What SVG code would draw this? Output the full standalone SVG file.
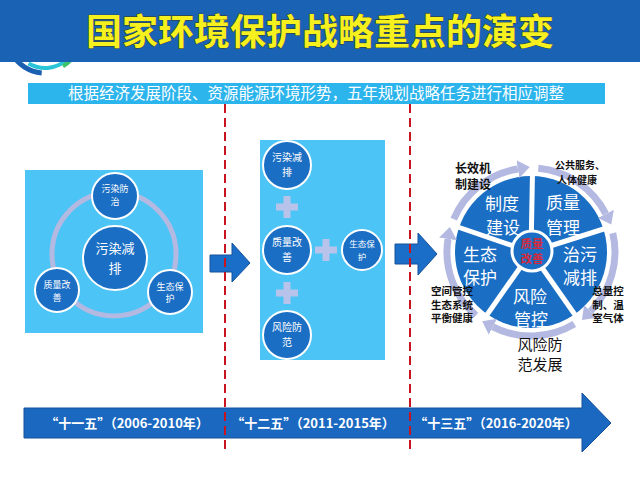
<svg xmlns="http://www.w3.org/2000/svg" width="640" height="480" viewBox="0 0 640 480">
<defs>
<style>
text{font-family:"Noto Sans CJK SC","Noto Sans",sans-serif;text-anchor:middle}
.node{fill:#1a6ec4;stroke:#ffffff;stroke-width:2}
.wt{fill:#ffffff}
.panel{fill:#4cc4f6}
.plus{fill:#b7c3ea}
.ring{fill:none;stroke:#b4b9e2}
.dash{stroke:#c8141e;stroke-width:2;stroke-dasharray:9 5}
.blk{fill:#111111;font-weight:bold}
.garr{fill:#1a6ec8;stroke:#16509a;stroke-width:1}
</style>
<marker id="ah" markerUnits="userSpaceOnUse" markerWidth="14" markerHeight="18" refX="0" refY="9" orient="auto">
<path d="M0,0 L12,9 L0,18 z" fill="#b4b9e2"/>
</marker>
</defs>
<rect width="640" height="480" fill="#ffffff"/>

<!-- logo arcs -->
<g id="logo" fill="none">
<path d="M12.1 54 A38 38 0 0 0 41.7 72.9" stroke="#1a5fb0" stroke-width="5"/>
<path d="M28.5 63.6 A33 33 0 0 0 66.2 60.3" stroke="#2ac4d8" stroke-width="4"/>
<path d="M63 66.2 A36 36 0 0 0 77.6 50.2" stroke="#3cc46a" stroke-width="4"/>
</g>

<!-- header -->
<g id="header">
<rect x="0" y="0" width="640" height="62" fill="#1a62b4"/>
<text x="320" y="45" font-size="36" font-weight="bold" fill="#f5f01e" stroke="#3a3a10" stroke-width="0.8" paint-order="stroke">国家环境保护战略重点的演变</text>
</g>

<g id="subtitle">
<rect x="28" y="83" width="577" height="21" fill="#2cb4ec"/>
<text x="316" y="99" font-size="15.5" class="wt">根据经济发展阶段、资源能源环境形势，五年规划战略任务进行相应调整</text>
</g>

<!-- panel 1 -->
<g id="panel1">
<rect x="25" y="170" width="178" height="163" class="panel"/>
<circle cx="114" cy="254" r="62" class="ring" stroke-width="5"/>
</g>
<g id="p1-top"><circle cx="115" cy="196" r="23" class="node"/><text x="115" y="192" font-size="9" class="wt">污染防</text><text x="115" y="205" font-size="9" class="wt">治</text></g>
<g id="p1-center"><circle cx="115" cy="258" r="32" class="node"/><text x="115" y="253" font-size="13" class="wt">污染减</text><text x="115" y="273" font-size="13" class="wt">排</text></g>
<g id="p1-left"><circle cx="57" cy="290" r="22" class="node"/><text x="57" y="288" font-size="9" class="wt">质量改</text><text x="57" y="301" font-size="9" class="wt">善</text></g>
<g id="p1-right"><circle cx="170" cy="292" r="22" class="node"/><text x="170" y="290" font-size="9" class="wt">生态保</text><text x="170" y="302" font-size="9" class="wt">护</text></g>

<!-- panel 2 -->
<g id="panel2">
<rect x="260" y="140" width="125" height="220" class="panel"/>
<path class="plus" d="M283.5 196 h7 v7.5 h7.5 v7 h-7.5 v7.5 h-7 v-7.5 h-7.5 v-7 h7.5 z"/>
<path class="plus" d="M283.5 282 h7 v7.5 h7.5 v7 h-7.5 v7.5 h-7 v-7.5 h-7.5 v-7 h7.5 z"/>
<path class="plus" d="M322.5 239 h7 v7.5 h7.5 v7 h-7.5 v7.5 h-7 v-7.5 h-7.5 v-7 h7.5 z"/>
</g>
<g id="p2-a"><circle cx="287" cy="165" r="24" class="node"/><text x="287" y="161" font-size="10" class="wt">污染减</text><text x="287" y="176" font-size="10" class="wt">排</text></g>
<g id="p2-b"><circle cx="287" cy="250" r="24" class="node"/><text x="287" y="246" font-size="10" class="wt">质量改</text><text x="287" y="261" font-size="10" class="wt">善</text></g>
<g id="p2-c"><circle cx="287" cy="335" r="24" class="node"/><text x="287" y="331" font-size="10" class="wt">风险防</text><text x="287" y="346" font-size="10" class="wt">范</text></g>
<g id="p2-d"><circle cx="362" cy="250" r="20" class="node"/><text x="362" y="247" font-size="8.5" class="wt">生态保</text><text x="362" y="260" font-size="8.5" class="wt">护</text></g>

<!-- panel 3 wheel -->
<g id="wheel">
<circle cx="531" cy="252" r="76" fill="#1a6ec4"/>
<g stroke="#ffffff" stroke-width="5">
<line x1="531" y1="252" x2="532.5" y2="172"/>
<line x1="531" y1="252" x2="610" y2="227"/>
<line x1="531" y1="252" x2="577.6" y2="318.5"/>
<line x1="531" y1="252" x2="484.4" y2="318.5"/>
<line x1="531" y1="252" x2="452" y2="225"/>
</g>
<circle cx="532" cy="251" r="20" fill="#1a6ec4" stroke="#ffffff" stroke-width="3"/>
<text x="532" y="248" font-size="11.5" font-weight="bold" fill="#d42a3c">质量</text>
<text x="532" y="263" font-size="11.5" font-weight="bold" fill="#d42a3c">改善</text>
</g>
<g id="w-zhidu"><text x="502" y="210" font-size="17" class="wt">制度</text><text x="503" y="234" font-size="17" class="wt">建设</text></g>
<g id="w-zhiliang"><text x="563" y="209" font-size="17" class="wt">质量</text><text x="563" y="234" font-size="17" class="wt">管理</text></g>
<g id="w-zhiwu"><text x="580" y="261" font-size="17" class="wt">治污</text><text x="580" y="284" font-size="17" class="wt">减排</text></g>
<g id="w-shengtai"><text x="480" y="261" font-size="17" class="wt">生态</text><text x="480" y="284" font-size="17" class="wt">保护</text></g>
<g id="w-fengxian"><text x="530" y="303" font-size="17" class="wt">风险</text><text x="531" y="326" font-size="17" class="wt">管控</text></g>

<!-- connectors -->
<g id="connectors">
<g class="ring" stroke-width="7" marker-end="url(#ah)">
<path d="M538.3 168.3 A84 84 0 0 1 605.8 213.9"/>
<path d="M612.8 233.1 A84 84 0 0 1 590.4 311.4"/>
<path d="M574.3 324 A84 84 0 0 1 492.9 326.8"/>
<path d="M475.9 315.4 A84 84 0 0 1 448 238.9"/>
<path d="M453.7 219.2 A84 84 0 0 1 517.9 169"/>
</g>
<polygon class="garr" points="210,255 232,255 232,243 250,263 232,282 232,272 210,272"/>
<polygon class="garr" points="395,244 418,244 418,233 437,254 418,275 418,264 395,264"/>
</g>

<!-- wheel annotations -->
<g id="annotations">
<text x="473" y="173" font-size="12" class="blk">长效机</text>
<text x="473" y="189" font-size="12" class="blk">制建设</text>
<text x="580" y="169" font-size="10" class="blk">公共服务、</text>
<text x="577" y="183.5" font-size="10" class="blk">人体健康</text>
<text x="452" y="295" font-size="10.5" class="blk">空间管控</text>
<text x="452" y="308.5" font-size="10.5" class="blk">生态系统</text>
<text x="452" y="322" font-size="10.5" class="blk">平衡健康</text>
<text x="608" y="295" font-size="10.5" class="blk">总量控</text>
<text x="608" y="308.5" font-size="10.5" class="blk">制、温</text>
<text x="608" y="322" font-size="10.5" class="blk">室气体</text>
<text x="540" y="350" font-size="15" fill="#111111">风险防</text>
<text x="540" y="369.5" font-size="15" fill="#111111">范发展</text>
</g>

<!-- timeline -->
<g id="timeline">
<polygon points="24,408 582,408 582,393 611,423 582,452 582,438 24,438" fill="#1a68c0" stroke="#16509a" stroke-width="1"/>
<text x="127" y="428" font-size="13" font-weight="bold" class="wt">“十一五”（2006-2010年）</text>
<text x="313" y="428" font-size="13" font-weight="bold" class="wt">“十二五”（2011-2015年）</text>
<text x="496" y="428" font-size="13" font-weight="bold" class="wt">“十三五”（2016-2020年）</text>
</g>

<g id="dividers">
<line x1="225" y1="104" x2="225" y2="452" class="dash"/>
<line x1="410" y1="104" x2="410" y2="452" class="dash"/>
</g>
</svg>
